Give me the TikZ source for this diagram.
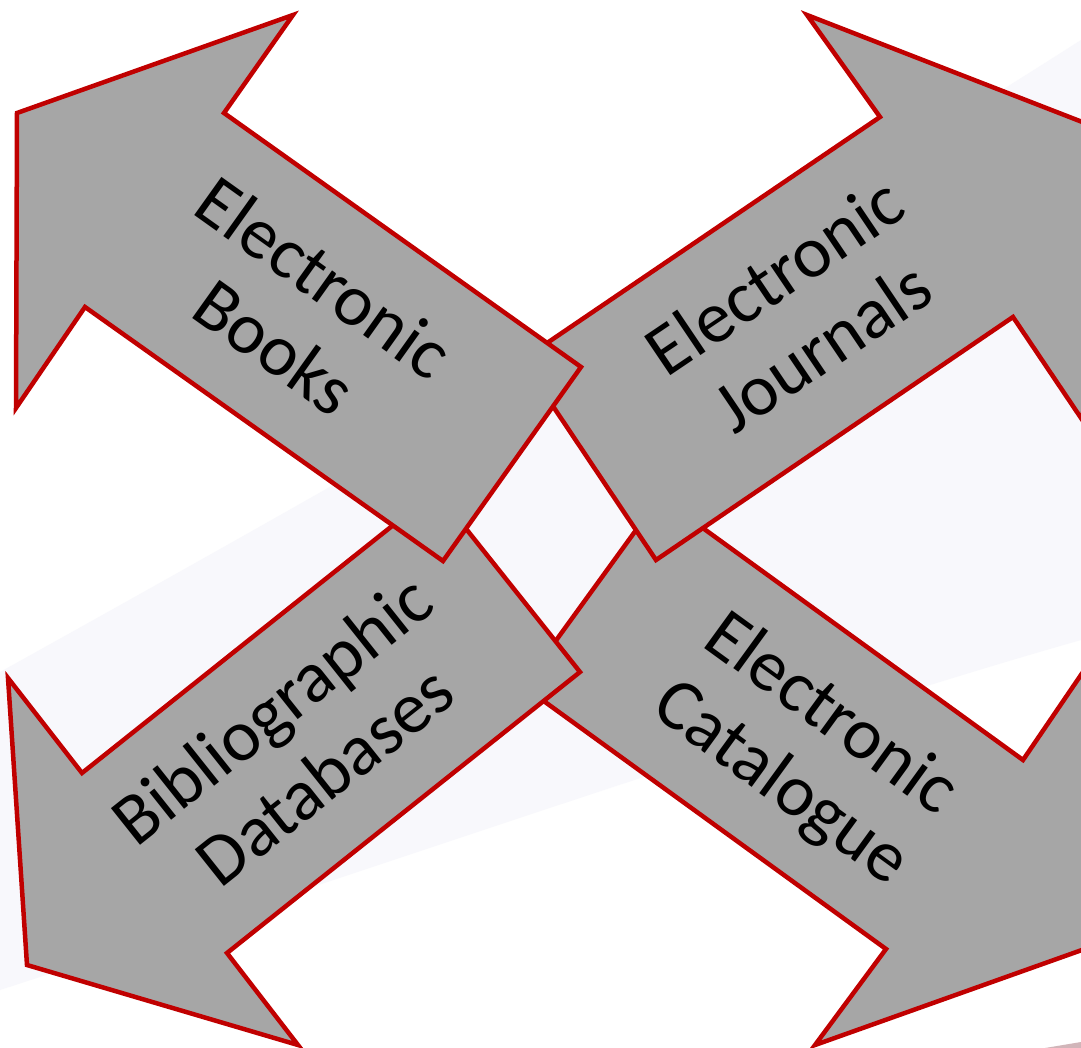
\documentclass[tikz,border=0pt]{standalone}
\usepackage{fontspec}
\setmainfont{Carlito}
\definecolor{arrowred}{HTML}{C00000}
\definecolor{arrowgrey}{HTML}{A6A6A6}
\definecolor{lav}{HTML}{F8F8FC}
\definecolor{smudge}{HTML}{8C4650}
\tikzset{
  bigarrow/.style={draw=arrowred, fill=arrowgrey, line width=4.5pt, line join=miter},
  lbl/.style={align=center, text=black, inner sep=0pt, font=\fontsize{73}{85}\selectfont}
}
\begin{document}
\begin{tikzpicture}[x=1pt,y=-1pt]
\useasboundingbox (0,0) rectangle (1081,1048);
\clip (0,0) rectangle (1081,1048);
\fill[white] (0,0) rectangle (1081,1048);
% faint background swoosh
\fill[lav] (0,990) .. controls (400,860) and (800,720) .. (1081,640)
  -- (1081,40) .. controls (800,220) and (400,450) .. (0,672) -- cycle;
\fill[smudge, opacity=0.4] (1045,1048) -- (1081,1042) -- (1081,1048) -- cycle;
% Electronic Catalogue
\draw[bigarrow] (660,497) -- (1023,760) -- (1100,647) -- (1110,940) -- (815,1045) -- (886,949) -- (523,686) -- cycle;
% Bibliographic Databases
\draw[bigarrow] (8,678) -- (82,773) -- (436,491) -- (580,672) -- (227,953) -- (298,1045) -- (27,965) -- cycle;
% Electronic Journals
\draw[bigarrow] (807,15) -- (880,117) -- (522,360) -- (656,560) -- (1013,317) -- (1083,421) -- (1090,125) -- cycle;
% Electronic Books
\draw[bigarrow] (293,15) -- (17,113) -- (16,408) -- (85,307) -- (443,561) -- (581,367) -- (224,113) -- cycle;
% labels
\node[lbl, rotate=-35.5] (books) at (300,312) {Electronic\\Books};
\node[lbl, rotate=34] (journals) at (798,311) {Electronic\\Journals};
\node[lbl, rotate=38.5] (biblio) at (298,742) {Bibliographic\\Databases};
\node[lbl, rotate=-36] (catalogue) at (805,750) {Electronic\\Catalogue};
\end{tikzpicture}
\end{document}
